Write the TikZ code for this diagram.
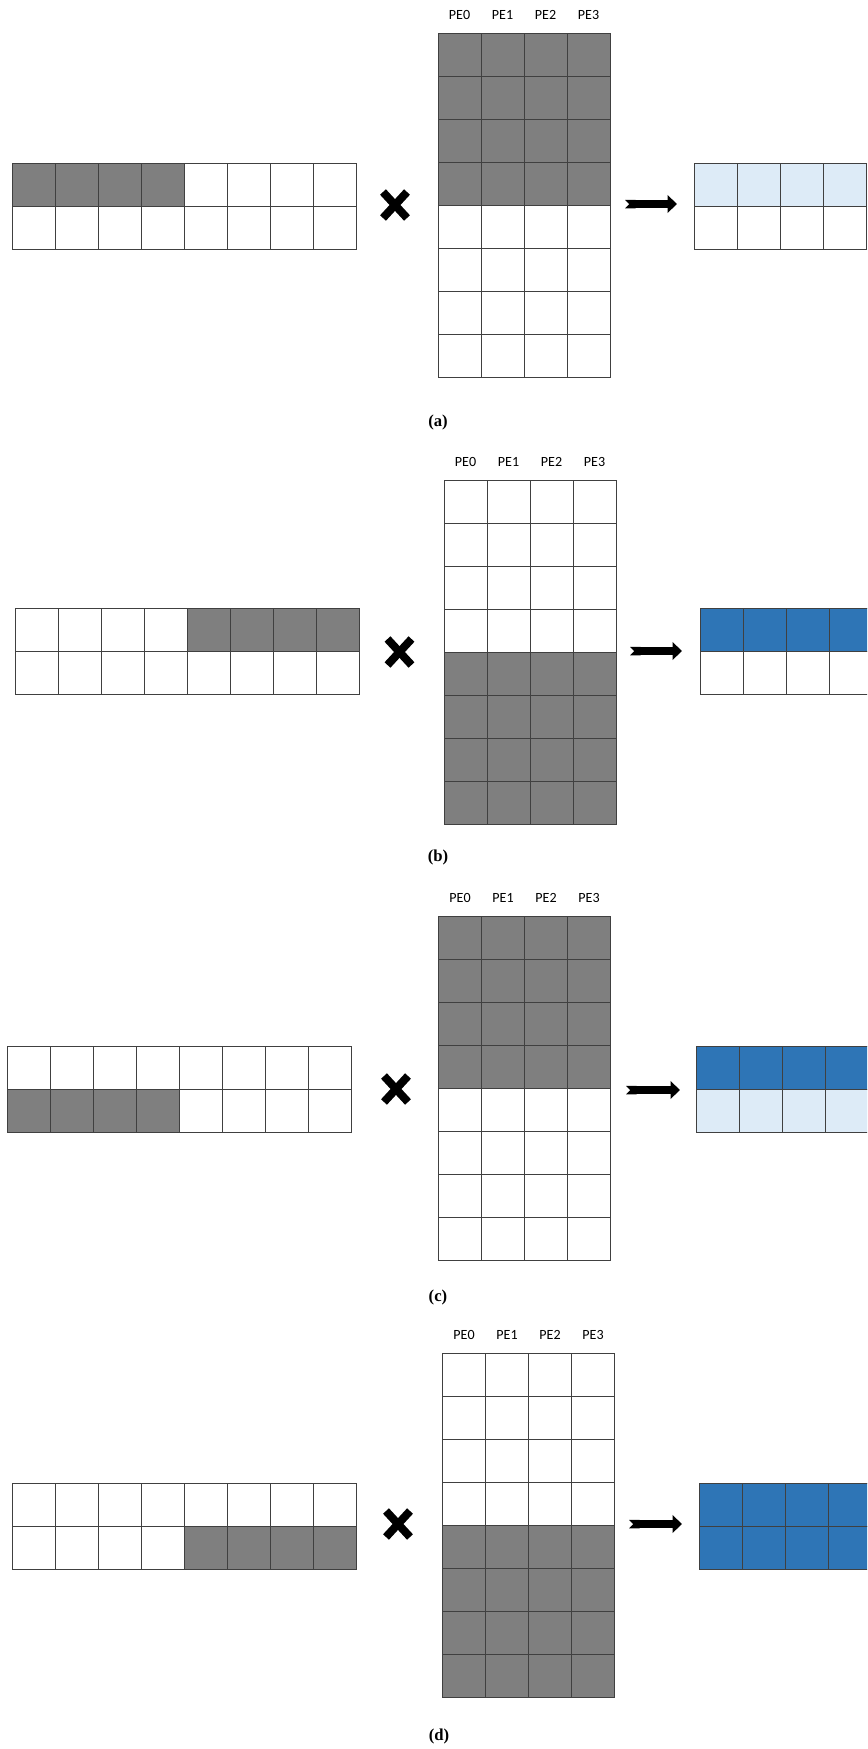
\documentclass[tikz,border=0pt]{standalone}
\usepackage{fontspec}
\newfontfamily\pefont{Carlito}
\newfontfamily\capfont{Liberation Serif}
\usetikzlibrary{positioning, arrows.meta, calc}

\definecolor{cellgray}{RGB}{127,127,127}
\definecolor{lightblue}{RGB}{221,235,247}
\definecolor{darkblue}{RGB}{46,117,182}

\begin{document}
\begin{tikzpicture}[
        x=0.02cm, y=-0.02cm, % one unit = one pixel, y downwards
        cell/.style={draw=black!75, line width=0.5pt, minimum size=0.86cm, inner sep=0pt, outer sep=0pt},
        pelabel/.style={font=\pefont\fontsize{8}{9}\selectfont, inner sep=0pt},
        caption/.style={font=\capfont\bfseries\fontsize{9.5}{11}\selectfont, inner sep=0pt},
        crossmark/.style={line width=0.16cm},
        bigarrow/.style={line width=0.17cm, {Triangle Cap[reversed]}-{Triangle[width=0.35cm, length=0.19cm]}}
    ]
    \useasboundingbox (0,0) rectangle (867,1749);
    \clip (0,0) rectangle (867,1749);

    % --- (a) ---
    \foreach \r in {1,2}
        \foreach \c in {1,...,8} {
            \pgfmathtruncatemacro{\pct}{(\r==1 && \c<5)*100}
            \node[cell, fill=cellgray!\pct!white] (aL-\r-\c) at ({12+43*\c-21.5},{163+43*\r-21.5}) {};
        }
    \foreach \r in {1,...,8}
        \foreach \c in {1,...,4} {
            \pgfmathtruncatemacro{\pct}{(\r<5)*100}
            \node[cell, fill=cellgray!\pct!white] (aM-\r-\c) at ({438+43*\c-21.5},{33.5+43*\r-21.5}) {};
        }
    \foreach \c/\n in {1/0,2/1,3/2,4/3}
        \node[pelabel, above=0.27cm of aM-1-\c] (aPE\n) {PE\n};
    \foreach \c in {1,...,4} {
        \node[cell, fill=lightblue] (aR-1-\c) at ({694+43*\c-21.5},{163+21.5}) {};
        \node[cell] (aR-2-\c) at ({694+43*\c-21.5},{163+64.5}) {};
    }
    \coordinate (aX) at (395,205);
    \draw[crossmark] ([shift={(-12,-13)}]aX) -- ([shift={(12,13)}]aX);
    \draw[crossmark] ([shift={(-12,13)}]aX) -- ([shift={(12,-13)}]aX);
    \coordinate (aA1) at (625,204);
    \coordinate (aA2) at (677,204);
    \draw[bigarrow] (aA1) -- (aA2);
    \node[caption] (aCap) at (438,422) {(a)};

    % --- (b) ---
    \foreach \r in {1,2}
        \foreach \c in {1,...,8} {
            \pgfmathtruncatemacro{\pct}{(\r==1 && \c>4)*100}
            \node[cell, fill=cellgray!\pct!white] (bL-\r-\c) at ({15.6+43*\c-21.5},{608+43*\r-21.5}) {};
        }
    \foreach \r in {1,...,8}
        \foreach \c in {1,...,4} {
            \pgfmathtruncatemacro{\pct}{(\r>4)*100}
            \node[cell, fill=cellgray!\pct!white] (bM-\r-\c) at ({444+43*\c-21.5},{480+43*\r-21.5}) {};
        }
    \foreach \c/\n in {1/0,2/1,3/2,4/3}
        \node[pelabel, above=0.27cm of bM-1-\c] (bPE\n) {PE\n};
    \foreach \c in {1,...,4} {
        \node[cell, fill=darkblue] (bR-1-\c) at ({700+43*\c-21.5},{608+21.5}) {};
        \node[cell] (bR-2-\c) at ({700+43*\c-21.5},{608+64.5}) {};
    }
    \coordinate (bX) at (399.5,652);
    \draw[crossmark] ([shift={(-12,-13)}]bX) -- ([shift={(12,13)}]bX);
    \draw[crossmark] ([shift={(-12,13)}]bX) -- ([shift={(12,-13)}]bX);
    \coordinate (bA1) at (630,651);
    \coordinate (bA2) at (682,651);
    \draw[bigarrow] (bA1) -- (bA2);
    \node[caption] (bCap) at (438,857) {(b)};

    % --- (c) ---
    \foreach \r in {1,2}
        \foreach \c in {1,...,8} {
            \pgfmathtruncatemacro{\pct}{(\r==2 && \c<5)*100}
            \node[cell, fill=cellgray!\pct!white] (cL-\r-\c) at ({7.3+43*\c-21.5},{1046+43*\r-21.5}) {};
        }
    \foreach \r in {1,...,8}
        \foreach \c in {1,...,4} {
            \pgfmathtruncatemacro{\pct}{(\r<5)*100}
            \node[cell, fill=cellgray!\pct!white] (cM-\r-\c) at ({438.5+43*\c-21.5},{916+43*\r-21.5}) {};
        }
    \foreach \c/\n in {1/0,2/1,3/2,4/3}
        \node[pelabel, above=0.27cm of cM-1-\c] (cPE\n) {PE\n};
    \foreach \c in {1,...,4} {
        \node[cell, fill=darkblue] (cR-1-\c) at ({696.7+43*\c-21.5},{1046+21.5}) {};
        \node[cell, fill=lightblue] (cR-2-\c) at ({696.7+43*\c-21.5},{1046+64.5}) {};
    }
    \coordinate (cX) at (396,1089);
    \draw[crossmark] ([shift={(-12,-13)}]cX) -- ([shift={(12,13)}]cX);
    \draw[crossmark] ([shift={(-12,13)}]cX) -- ([shift={(12,-13)}]cX);
    \coordinate (cA1) at (626,1090);
    \coordinate (cA2) at (680,1090);
    \draw[bigarrow] (cA1) -- (cA2);
    \node[caption] (cCap) at (438,1297) {(c)};

    % --- (d) ---
    \foreach \r in {1,2}
        \foreach \c in {1,...,8} {
            \pgfmathtruncatemacro{\pct}{(\r==2 && \c>4)*100}
            \node[cell, fill=cellgray!\pct!white] (dL-\r-\c) at ({12.3+43*\c-21.5},{1483+43*\r-21.5}) {};
        }
    \foreach \r in {1,...,8}
        \foreach \c in {1,...,4} {
            \pgfmathtruncatemacro{\pct}{(\r>4)*100}
            \node[cell, fill=cellgray!\pct!white] (dM-\r-\c) at ({442.5+43*\c-21.5},{1353+43*\r-21.5}) {};
        }
    \foreach \c/\n in {1/0,2/1,3/2,4/3}
        \node[pelabel, above=0.27cm of dM-1-\c] (dPE\n) {PE\n};
    \foreach \c in {1,...,4} {
        \node[cell, fill=darkblue] (dR-1-\c) at ({699+43*\c-21.5},{1483+21.5}) {};
        \node[cell, fill=darkblue] (dR-2-\c) at ({699+43*\c-21.5},{1483+64.5}) {};
    }
    \coordinate (dX) at (398,1524);
    \draw[crossmark] ([shift={(-12,-13)}]dX) -- ([shift={(12,13)}]dX);
    \draw[crossmark] ([shift={(-12,13)}]dX) -- ([shift={(12,-13)}]dX);
    \coordinate (dA1) at (629,1524);
    \coordinate (dA2) at (682,1524);
    \draw[bigarrow] (dA1) -- (dA2);
    \node[caption] (dCap) at (439,1736) {(d)};

\end{tikzpicture}
\end{document}
